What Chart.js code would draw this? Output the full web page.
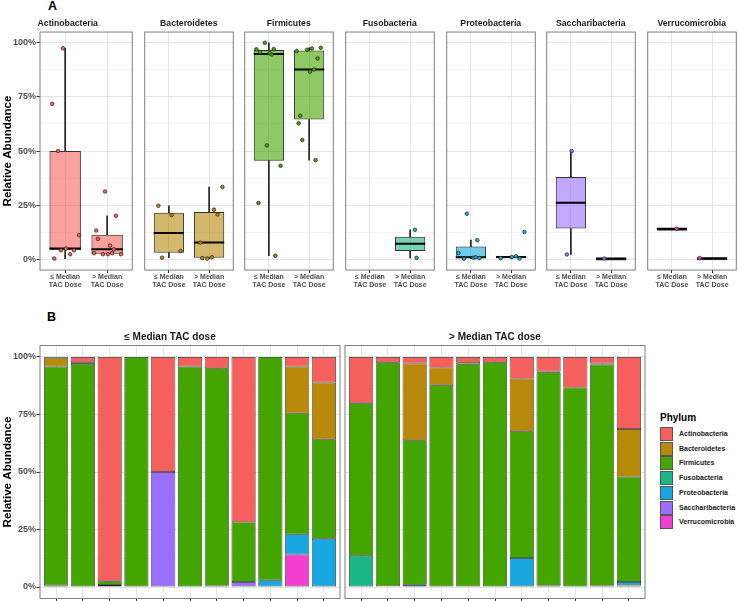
<!DOCTYPE html>
<html>
<head>
<meta charset="utf-8">
<title>Relative abundance by TAC dose</title>
<script src="https://cdn.jsdelivr.net/npm/chart.js@4.4.1/dist/chart.umd.min.js"></script>
<style>
    html, body { margin: 0; padding: 0; background: #fff; }
    body { width: 740px; height: 601px; overflow: hidden; position: relative; font-family: 'Liberation Sans', Arial, sans-serif; }
    canvas { position: absolute; }
    .tag { position: absolute; font-weight: bold; font-size: 12.5px; line-height: 1; color: #000; }
    #legend { position: absolute; left: 660px; top: 411px; width: 80px; height: 130px; }
    #legend .title { position: absolute; left: 0; top: 0; font-size: 10px; font-weight: bold; line-height: 13px; color: #000; }
    #legend .key { position: absolute; left: 0; width: 13px; height: 14px; box-sizing: border-box; border: 0.8px solid #555; }
    #legend .lab { position: absolute; left: 19px; font-size: 7px; font-weight: bold; line-height: 14px; color: #1a1a1a; white-space: nowrap; }
</style>
</head>
<body>
<div class="tag" style="left:48px; top:0px;">A</div>
<div class="tag" style="left:47px; top:310.5px;">B</div>
<div id="legend"><div class="title">Phylum</div></div>

<script>
// --- Dados (abundância relativa em %, 11 amostras por grupo de dose) ---
const phyla = ['Actinobacteria', 'Bacteroidetes', 'Firmicutes', 'Fusobacteria', 'Proteobacteria', 'Saccharibacteria', 'Verrucomicrobia'];
const phylumColors = ['#F6605C', '#B8880A', '#45A500', '#1BB886', '#18A7E0', '#9A6EFF', '#F23FD0'];
const groupLabels = [['≤ Median', 'TAC Dose'], ['> Median', 'TAC Dose']];
const doseTitles = ['≤ Median TAC dose', '> Median TAC dose'];
const yTicks = [0, 25, 50, 75, 100];
const yMinorTicks = [12.5, 37.5, 62.5, 87.5];

const actinobacteriaLow    = [0.3, 2.3, 97.5, 0, 50.0, 4.1, 4.9, 71.8, 0, 4.1, 11.1];
const actinobacteriaHigh   = [20.1, 2.3, 2.8, 4.6, 2.3, 2.3, 9.4, 6.3, 13.3, 2.8, 31.3];
const bacteroidetesLow     = [3.8, 0.7, 0, 0, 0, 0, 0, 0, 0, 20.4, 24.7];
const bacteroidetesHigh    = [0, 0, 33.4, 7.7, 0.9, 0, 22.9, 0.3, 0, 0.5, 20.7];
const firmicutesLow        = [95.2, 97.0, 1.6, 100, 0, 95.7, 94.6, 26.0, 97.1, 52.6, 43.2];
const firmicutesHigh       = [66.3, 97.4, 62.8, 87.7, 96.8, 97.7, 55.1, 92.8, 86.7, 96.2, 45.8];
const fusobacteriaLow      = [0, 0, 0, 0, 0, 0, 0, 0, 0, 0, 0];
const fusobacteriaHigh     = [13.6, 0, 0, 0, 0, 0, 0, 0.6, 0, 0, 0];
const proteobacteriaLow    = [0.7, 0, 0.9, 0, 0, 0.2, 0.5, 0, 2.9, 8.8, 21.0];
const proteobacteriaHigh   = [0, 0.3, 1.0, 0, 0, 0, 12.6, 0, 0, 0.5, 1.4];
const saccharibacteriaLow  = [0, 0, 0, 0, 50.0, 0, 0, 2.2, 0, 0, 0];
const saccharibacteriaHigh = [0, 0, 0, 0, 0, 0, 0, 0, 0, 0, 0.3];
const verrucomicrobiaLow   = [0, 0, 0, 0, 0, 0, 0, 0, 0, 14.1, 0];
const verrucomicrobiaHigh  = [0, 0, 0, 0, 0, 0, 0, 0, 0, 0, 0.5];

const lowDose  = [actinobacteriaLow, bacteroidetesLow, firmicutesLow, fusobacteriaLow, proteobacteriaLow, saccharibacteriaLow, verrucomicrobiaLow];
const highDose = [actinobacteriaHigh, bacteroidetesHigh, firmicutesHigh, fusobacteriaHigh, proteobacteriaHigh, saccharibacteriaHigh, verrucomicrobiaHigh];
const doseGroups = [lowDose, highDose];

// --- Estilo ---
Chart.defaults.font.family = "'Liberation Sans', Arial, Helvetica, sans-serif";
Chart.defaults.animation = false;
Chart.defaults.plugins.legend.display = false;
Chart.defaults.plugins.tooltip.enabled = false;

const majorGrid = '#e4e4e4';
const minorGrid = '#efefef';
const tickInk = '#4d4d4d';
// deslocamento horizontal dos pontos (jitter), em unidades de categoria
const jitter = [-0.26, 0.12, -0.05, 0.29, -0.17, 0.21, 0.02, -0.31, 0.16, -0.1, 0.33, -0.22, 0.07];

function hexToRgba(hex, a) {
    const n = parseInt(hex.slice(1), 16);
    return `rgba(${(n >> 16) & 255}, ${(n >> 8) & 255}, ${n & 255}, ${a})`;
}

// quantil tipo 7 (igual ao R)
function quantile(sorted, p) {
    const h = (sorted.length - 1) * p;
    const lo = Math.floor(h);
    const hi = Math.min(lo + 1, sorted.length - 1);
    return sorted[lo] + (h - lo) * (sorted[hi] - sorted[lo]);
}

function boxStats(values) {
    const s = values.filter(v => v > 0).sort((a, b) => a - b);
    if (!s.length) return null;
    const q1 = quantile(s, 0.25), med = quantile(s, 0.5), q3 = quantile(s, 0.75);
    const iqr = q3 - q1;
    const lo = s.find(v => v >= q1 - 1.5 * iqr);
    const hi = [...s].reverse().find(v => v <= q3 + 1.5 * iqr);
    return { q1, med, q3, lo, hi };
}

function addCanvas(left, top, width, height) {
    const c = document.createElement('canvas');
    c.width = width;
    c.height = height;
    c.style.left = left + 'px';
    c.style.top = top + 'px';
    c.style.width = width + 'px';
    c.style.height = height + 'px';
    document.body.appendChild(c);
    return c;
}

const panelBorder = {
    id: 'panelBorder',
    afterDraw(chart) {
        const { ctx, chartArea: a } = chart;
        ctx.save();
        ctx.strokeStyle = '#7f7f7f';
        ctx.lineWidth = 1;
        ctx.strokeRect(a.left, a.top, a.right - a.left, a.bottom - a.top);
        ctx.restore();
    }
};

const isMajor = v => yTicks.includes(v);

function yAxis(withLabels, width, stacked) {
    return {
        type: 'linear', min: -5, max: 105, stacked: stacked,
        afterBuildTicks: s => { s.ticks = [...yTicks, ...yMinorTicks].sort((a, b) => a - b).map(v => ({ value: v })); },
        afterFit: s => { s.width = width; },
        border: { display: false },
        grid: {
            color: ctx => isMajor(ctx.tick.value) ? majorGrid : minorGrid,
            lineWidth: ctx => isMajor(ctx.tick.value) ? 1 : 0.6,
            drawTicks: withLabels,
            tickLength: 3.5,
            tickWidth: 1,
            tickColor: ctx => isMajor(ctx.tick.value) ? '#333' : 'rgba(0,0,0,0)'
        },
        ticks: {
            display: withLabels, padding: 0.5, autoSkip: false,
            font: { size: 9, weight: 'bold' }, color: tickInk,
            callback: v => isMajor(v) ? v + '%' : ''
        },
        title: {
            display: withLabels, text: 'Relative Abundance', color: '#000',
            font: { size: 11.6, weight: 'bold' }, padding: { top: 0.5, bottom: 0 }
        }
    };
}

// --- Painel A: um boxplot por filo ---
const facetLefts = [40, 141, 241, 342, 443, 543, 644];
const facetW = 95.5;
const facetTop = 14, facetTitleH = 18.04, facetPanelH = 238;

function boxDatasets(p, g) {
    const st = boxStats(doseGroups[g][p]);
    if (!st) return [];
    const x = g + 1;
    const color = phylumColors[p];
    const points = doseGroups[g][p]
        .map((v, i) => ({ v, i }))
        .filter(d => d.v > 0)
        .map(d => ({ x: x + jitter[(d.i + 3 * p + 5 * g) % jitter.length], y: d.v }));
    return [
        {
            type: 'bar', data: [{ x, y: [st.lo, st.q1] }, { x, y: [st.q3, st.hi] }],
            backgroundColor: '#2b2b2b', borderWidth: 0, barThickness: 1.1, grouped: false, order: 3
        },
        {
            type: 'bar', data: [{ x, y: [st.q1, st.q3] }],
            backgroundColor: hexToRgba(color, 0.6), borderColor: '#333', borderWidth: 1,
            borderSkipped: false, categoryPercentage: 1, barPercentage: 0.75,
            minBarLength: 2, grouped: false, order: 2
        },
        {
            type: 'line', data: [{ x: x - 0.375, y: st.med }, { x: x + 0.375, y: st.med }],
            borderColor: '#000', borderWidth: 2, pointRadius: 0, order: 1
        },
        {
            type: 'scatter', data: points,
            pointRadius: 1.8, pointBackgroundColor: color, pointBorderColor: '#222',
            pointBorderWidth: 0.7, order: 0
        }
    ];
}

phyla.forEach((name, p) => {
    const first = p === 0;
    const padL = first ? 40 : 1;
    const left = facetLefts[p];
    const cw = Math.ceil(padL + facetW + 1);
    const ch = 288;
    const canvas = addCanvas(left - padL, facetTop, cw, ch);
    new Chart(canvas.getContext('2d'), {
        type: 'bar',
        data: { datasets: [...boxDatasets(p, 0), ...boxDatasets(p, 1)] },
        options: {
            responsive: false, devicePixelRatio: 1, events: [],
            layout: { padding: { left: first ? 0 : 1, right: cw - padL - facetW, top: 0, bottom: 0 } },
            plugins: {
                title: {
                    display: true, text: name, color: '#1a1a1a',
                    font: { size: 8.7, weight: 'bold' }, padding: { top: 4.8, bottom: 2.8 }
                }
            },
            scales: {
                x: {
                    type: 'linear', min: 0.4, max: 2.6, offset: false,
                    afterBuildTicks: s => { s.ticks = [{ value: 1 }, { value: 2 }]; },
                    afterFit: s => { s.height = ch - facetTitleH - facetPanelH; },
                    border: { display: false },
                    grid: { offset: false, color: majorGrid, lineWidth: 1, tickLength: 3, tickColor: '#333' },
                    ticks: {
                        padding: 0, maxRotation: 0, autoSkip: false,
                        font: { size: 7, weight: 'bold', lineHeight: 1.1 }, color: tickInk,
                        callback: v => groupLabels[v - 1]
                    }
                },
                y: yAxis(first, first ? 40 : 0, false)
            }
        },
        plugins: [panelBorder]
    });
});

// --- Painel B: composição por amostra ---
const barTop = 325, barTitleH = 20.5, barPanelH = 253, barPanelW = 300;
const barLefts = [40, 345];

doseGroups.forEach((group, g) => {
    const first = g === 0;
    const padL = first ? 40 : 1;
    const cw = Math.ceil(padL + barPanelW + 1);
    const ch = 286;
    const canvas = addCanvas(barLefts[g] - padL, barTop, cw, ch);
    const datasets = phyla.map((name, p) => ({
        type: 'bar', label: name,
        data: group[p].map((v, i) => ({ x: i + 1, y: v > 0 ? v : null })),
        backgroundColor: phylumColors[p], borderColor: '#1a1a1a', borderWidth: 0.7,
        borderSkipped: false, categoryPercentage: 1, barPercentage: 0.9
    })).reverse(); // Verrucomicrobia embaixo, Actinobacteria no topo
    new Chart(canvas.getContext('2d'), {
        type: 'bar',
        data: { datasets },
        options: {
            responsive: false, devicePixelRatio: 1, events: [],
            layout: { padding: { left: first ? 0 : 1, right: cw - padL - barPanelW, top: 0, bottom: 0 } },
            plugins: {
                title: {
                    display: true, text: doseTitles[g], color: '#1a1a1a',
                    font: { size: 10, weight: 'bold' }, padding: { top: 6.3, bottom: 2.2 }
                }
            },
            scales: {
                x: {
                    type: 'linear', min: 0.4, max: 11.6, stacked: true, offset: false,
                    afterBuildTicks: s => { s.ticks = group[0].map((_, i) => ({ value: i + 1 })); },
                    afterFit: s => { s.height = ch - barTitleH - barPanelH; },
                    border: { display: false },
                    grid: { offset: false, color: majorGrid, lineWidth: 1, tickLength: 3.5, tickColor: '#333' },
                    ticks: { autoSkip: false, maxRotation: 0, callback: () => '' }
                },
                y: yAxis(first, first ? 40 : 0, true)
            }
        },
        plugins: [panelBorder]
    });
});

// --- Legenda ---
const legend = document.getElementById('legend');
phyla.forEach((name, p) => {
    const key = document.createElement('div');
    key.className = 'key';
    key.style.top = (16 + p * 14.7) + 'px';
    key.style.background = phylumColors[p];
    const lab = document.createElement('div');
    lab.className = 'lab';
    lab.style.top = (16 + p * 14.7) + 'px';
    lab.textContent = name;
    legend.appendChild(key);
    legend.appendChild(lab);
});
</script>
</body>
</html>
